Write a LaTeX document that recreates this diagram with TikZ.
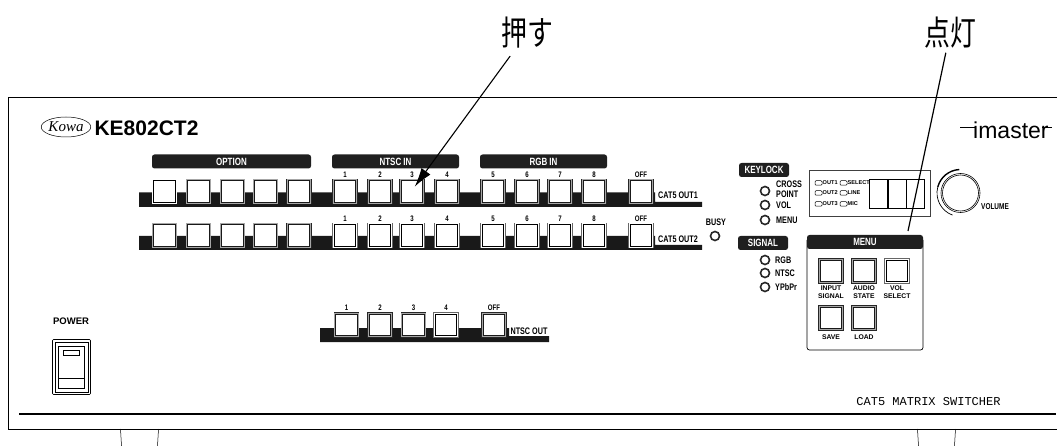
\documentclass[tikz,border=0pt]{standalone}
\usepackage{fontspec}
\usetikzlibrary{arrows.meta,shapes.geometric}
\setmainfont{Liberation Sans}
\newfontfamily\cjk[FakeStretch=0.76]{Noto Sans CJK JP}
\newfontfamily\panelfont[FakeStretch=0.76]{Liberation Sans}
\newfontfamily\typefont{Liberation Mono}
\newfontfamily\logofont{Liberation Serif}
\tikzset{%
      btn/.style={fill=white,draw=black!90,line width=0.7pt,minimum size=21.5pt,inner sep=0pt,
        preaction={draw=black!85,line width=3.8pt},preaction={draw=black!35,line width=2.6pt}},
      btnon/.style={fill=white,draw=black,line width=0.9pt,minimum size=21.5pt,inner sep=0pt,
        preaction={draw=black!60,line width=3.8pt},preaction={draw=white,line width=2.6pt}},
      barlbl/.style={fill=black!88,text=white,rounded corners=2.5pt,minimum height=14pt,inner sep=0pt,font=\panelfont\bfseries\fontsize{10.5}{10.5}\selectfont},
      numlbl/.style={inner sep=0pt,font=\panelfont\bfseries\fontsize{8}{8}\selectfont},
      panlbl/.style={inner sep=0pt,font=\panelfont\bfseries\fontsize{9.5}{10.5}\selectfont},
      ledlbl/.style={panlbl,anchor=west},
      led/.style={draw=black!85,circle,line width=1.6pt,minimum size=9pt,inner sep=0pt},
      minilbl/.style={inner sep=0pt,anchor=west,font=\bfseries\fontsize{5.6}{6}\selectfont},
      miniled/.style={draw=black,rounded corners=1pt,line width=0.5pt,minimum width=7pt,minimum height=4.5pt,inner sep=0pt},
      menulbl/.style={inner sep=0pt,align=center,font=\bfseries\fontsize{6.8}{8.6}\selectfont},
      callout/.style={inner sep=0pt,font=\cjk\fontsize{34}{36}\selectfont},
}
\begin{document}
\begin{tikzpicture}[%
      x=1pt,y=-1pt,
      ]
      \useasboundingbox (0,0) rectangle (1057,446);

      \draw [line width=0.8pt] (1057,97.5) -- (8,97.5) -- (8,429) -- (1057,429);
      \draw [line width=1.5pt] (19,414) -- (1056,414);
      \draw [line width=0.5pt] (120.5,429) -- (121.5,446);
      \draw [line width=0.5pt] (158.5,429) -- (157.5,446);
      \draw [line width=0.5pt] (917.5,429) -- (918.5,446);
      \draw [line width=0.5pt] (955.5,429) -- (954.5,446);

      \node [draw=black,ellipse,line width=0.5pt,minimum width=45pt,minimum height=20pt,inner sep=0pt,font=\logofont\itshape\fontsize{15}{15}\selectfont] (kowa) at (66,127) {Kowa};
      \node [inner sep=0pt,font=\bfseries\fontsize{21}{22}\selectfont] (model) at (146.5,128) {KE802CT2};

      \node [barlbl,minimum width=159pt] (optionbar) at (231.5,161.5) {OPTION};
      \node [barlbl,minimum width=127pt] (ntscbar) at (395.5,161.5) {NTSC IN};
      \node [barlbl,minimum width=127pt] (rgbbar) at (543.5,161.5) {RGB IN};

      \fill [black!90] (139,192.5) -- (655,192.5) -- (655,202) -- (702,202) -- (702,207) -- (139,207) -- cycle;
      \fill [black!90] (139,236) -- (655,236) -- (655,245) -- (702,245) -- (702,250) -- (139,250) -- cycle;
      \fill [black!90] (320,328) -- (509,328) -- (509,336) -- (549,336) -- (549,342) -- (320,342) -- cycle;

      \node [btnon] (a1) at (164.5,191.5) {};
      \node [btn] (a2) at (198.5,191.5) {};
      \node [btn] (a3) at (232.5,191.5) {};
      \node [btn] (a4) at (265.5,191.5) {};
      \node [btn] (a5) at (299,191.5) {};
      \node [btn] (a6) at (345,191.5) {};
      \node [btn] (a7) at (380,191.5) {};
      \node [btn] (a8) at (412,191.5) {};
      \node [btn] (a9) at (447,191.5) {};
      \node [btn] (a10) at (493,191.5) {};
      \node [btn] (a11) at (527,191.5) {};
      \node [btn] (a12) at (560,191.5) {};
      \node [btn] (a13) at (594,191.5) {};
      \node [btn] (a14) at (641,191.5) {};

      \node [btn] (b1) at (164.5,235.5) {};
      \node [btn] (b2) at (198.5,235.5) {};
      \node [btn] (b3) at (232.5,235.5) {};
      \node [btn] (b4) at (265.5,235.5) {};
      \node [btn] (b5) at (299,235.5) {};
      \node [btnon] (b6) at (345,235.5) {};
      \node [btnon] (b7) at (380,235.5) {};
      \node [btnon] (b8) at (412,235.5) {};
      \node [btnon] (b9) at (447,235.5) {};
      \node [btnon] (b10) at (493,235.5) {};
      \node [btnon] (b11) at (527,235.5) {};
      \node [btnon] (b12) at (560,235.5) {};
      \node [btnon] (b13) at (594,235.5) {};
      \node [btnon] (b14) at (641,235.5) {};

      \node [btn] (c1) at (346.5,325) {};
      \node [btn] (c2) at (380,325) {};
      \node [btn] (c3) at (413.5,325) {};
      \node [btnon] (c4) at (446,325) {};
      \node [btn] (c5) at (494,325) {};

      \node [numlbl] (na1) at (345,175) {1};
      \node [numlbl] (na2) at (380,175) {2};
      \node [numlbl] (na3) at (412,175) {3};
      \node [numlbl] (na4) at (447,175) {4};
      \node [numlbl] (na5) at (493,175) {5};
      \node [numlbl] (na6) at (527,175) {6};
      \node [numlbl] (na7) at (560,175) {7};
      \node [numlbl] (na8) at (594,175) {8};
      \node [numlbl] (na9) at (641,175) {OFF};

      \node [numlbl] (nb1) at (345,219) {1};
      \node [numlbl] (nb2) at (380,219) {2};
      \node [numlbl] (nb3) at (412,219) {3};
      \node [numlbl] (nb4) at (447,219) {4};
      \node [numlbl] (nb5) at (493,219) {5};
      \node [numlbl] (nb6) at (527,219) {6};
      \node [numlbl] (nb7) at (560,219) {7};
      \node [numlbl] (nb8) at (594,219) {8};
      \node [numlbl] (nb9) at (641,219) {OFF};

      \node [numlbl] (nc1) at (346.5,308) {1};
      \node [numlbl] (nc2) at (380,308) {2};
      \node [numlbl] (nc3) at (413.5,308) {3};
      \node [numlbl] (nc4) at (446,308) {4};
      \node [numlbl] (nc5) at (494,308) {OFF};

      \node [panlbl] (out1) at (678,195) {CAT5 OUT1};
      \node [panlbl] (out2) at (678,239) {CAT5 OUT2};
      \node [panlbl] (ntscout) at (529,331) {NTSC OUT};
      \node [panlbl] (busy) at (716,222) {BUSY};
      \node [led] (busyled) at (715,236) {};

      \node [barlbl,minimum width=50pt] (keylock) at (764,170) {KEYLOCK};
      \node [led] (led1) at (765,191) {};
      \node [led] (led2) at (765,205) {};
      \node [led] (led3) at (765,220) {};
      \node [ledlbl,align=left] (lbl1) at (776,189) {CROSS\\POINT};
      \node [ledlbl] (lbl2) at (776,205) {VOL};
      \node [ledlbl] (lbl3) at (776,220) {MENU};

      \node [barlbl,minimum width=50pt] (signal) at (763,243) {SIGNAL};
      \node [led] (led4) at (765,260) {};
      \node [led] (led5) at (765,273) {};
      \node [led] (led6) at (765,287) {};
      \node [ledlbl] (lbl4) at (775,260) {RGB};
      \node [ledlbl] (lbl5) at (775,273) {NTSC};
      \node [ledlbl] (lbl6) at (775,287) {YPbPr};

      \draw [line width=0.7pt,black!75] (809,170) rectangle (930,216);
      \draw [line width=0.7pt] (869,179) rectangle (887,208);
      \draw [line width=0.7pt] (888,179) rectangle (906,208);
      \draw [line width=0.7pt] (906.5,179) rectangle (924.5,208);
      \node [miniled] (m1) at (818.5,183) {};
      \node [miniled] (m2) at (818.5,193) {};
      \node [miniled] (m3) at (818.5,204) {};
      \node [miniled] (m4) at (843.5,183) {};
      \node [miniled] (m5) at (843.5,193) {};
      \node [miniled] (m6) at (843.5,204) {};
      \node [minilbl] (t1) at (822.5,183) {OUT1};
      \node [minilbl] (t2) at (822.5,193) {OUT2};
      \node [minilbl] (t3) at (822.5,204) {OUT3};
      \node [minilbl] (t4) at (847.5,183) {SELECT};
      \node [minilbl] (t5) at (847.5,193) {LINE};
      \node [minilbl] (t6) at (847.5,204) {MIC};

      \draw [line width=0.6pt] (960.5,193) circle (19.5pt);
      \draw [line width=0.6pt] (960.5,193) circle (18pt);
      \draw [line width=1.4pt] (960.5,193) ++(93:23.5pt) arc [start angle=93,end angle=165,radius=23.5pt];
      \draw [line width=0.7pt] (960.5,193) ++(165:23.5pt) arc [start angle=165,end angle=250,radius=23.5pt];
      \node [panlbl,font=\panelfont\bfseries\fontsize{8.5}{9}\selectfont] (volume) at (995,207) {VOLUME};

      \node [inner sep=0pt,anchor=base west,font=\fontsize{23}{24}\selectfont] (imaster) at (973,139) {imaster};
      \draw [line width=1.2pt] (960,127.5) -- (975,127.5);
      \draw [line width=1.2pt] (1042,127.5) -- (1052,127.5);

      \draw [line width=0.7pt,rounded corners=2.5pt] (807,240) -- (807,350) -- (923,350) -- (923,240);
      \node [barlbl,minimum width=116pt] (menubar) at (865,242) {MENU};
      \node [btn] (s1) at (831,271) {};
      \node [btn] (s2) at (864,271) {};
      \node [btnon] (s3) at (897,271) {};
      \node [btn] (s4) at (831,318) {};
      \node [btn] (s5) at (864,318) {};
      \node [menulbl] (sl1) at (831,292) {INPUT\\SIGNAL};
      \node [menulbl] (sl2) at (864,292) {AUDIO\\STATE};
      \node [menulbl] (sl3) at (897,292) {VOL\\SELECT};
      \node [menulbl] (sl4) at (831,337) {SAVE};
      \node [menulbl] (sl5) at (864,337) {LOAD};

      \node [inner sep=0pt,font=\typefont\fontsize{12}{12}\selectfont] (product) at (928.5,402) {CAT5 MATRIX SWITCHER};

      \node [inner sep=0pt,font=\bfseries\fontsize{9.5}{10}\selectfont] (power) at (71,321) {POWER};
      \draw [line width=0.6pt,rounded corners=1pt] (52.5,339.5) rectangle (90.5,394.5);
      \draw [line width=0.6pt] (55,342) rectangle (88,392);
      \draw [line width=0.9pt] (58,346) rectangle (84.5,388);
      \draw [line width=0.6pt] (63.6,350.7) rectangle (79,355.7);
      \draw [line width=0.6pt] (58,378) -- (84.5,378);

      \node [callout] (push) at (527,33) {押す};
      \node [callout] (lit) at (950,33) {点灯};
      \coordinate (pushtip) at (414.7,186.7);
      \coordinate (littip) at (908,231);
      \draw [line width=1.1pt,shorten <=9pt,-{Latex[length=19pt,width=11pt]}] (push) -- (pushtip);
      \draw [line width=1.2pt,shorten <=4pt] (lit) -- (littip);
      \end{tikzpicture}
\end{document}
